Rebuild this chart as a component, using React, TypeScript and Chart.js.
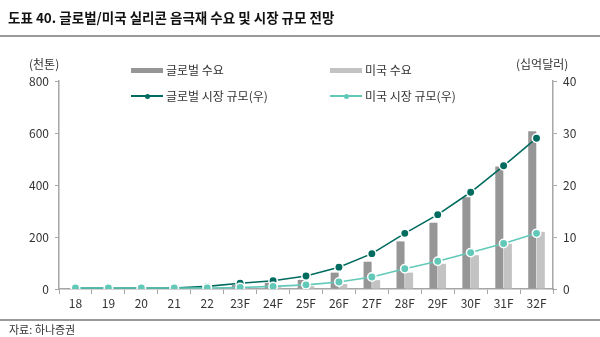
import React, { useEffect, useRef } from "react";
import { Chart, registerables } from "chart.js";

Chart.register(...registerables);

const categories = ["18", "19", "20", "21", "22", "23F", "24F", "25F", "26F", "27F", "28F", "29F", "30F", "31F", "32F"];
const globalDemand = [3, 4, 5, 7, 10, 15, 24, 35, 63, 105, 183, 255, 353, 471, 607];
const usDemand = [0.5, 0.7, 1, 1.5, 2, 4, 7, 11, 19, 34, 63, 97, 130, 174, 220];
const globalMarket = [0.2, 0.2, 0.2, 0.2, 0.5, 1.1, 1.6, 2.5, 4.2, 6.8, 10.7, 14.3, 18.6, 23.7, 29.0];
const usMarket = [0.2, 0.2, 0.2, 0.2, 0.2, 0.3, 0.5, 0.8, 1.35, 2.3, 3.9, 5.35, 7.0, 8.75, 10.7];
const leftTicks = [0, 200, 400, 600, 800];
const rightTicks = [0, 10, 20, 30, 40];

const FONT = '"Noto Sans CJK KR", "Noto Sans", sans-serif';
const C_GLOBAL_BAR = "#969696";
const C_US_BAR = "#c3c3c3";
const C_GLOBAL_LINE = "#006b5f";
const C_US_LINE = "#62c9b9";
const AXIS = "#a6a6a6";
const TEXT = "#333333";

export default function App() {
  const ref = useRef<HTMLCanvasElement>(null);
  useEffect(() => {
    document.body.style.margin = "0";
    const ctx = ref.current!.getContext("2d")!;
    const chart = new Chart(ctx, {
      type: "bar",
      data: {
        labels: categories,
        datasets: [
          {
            type: "line",
            label: "미국 시장 규모(우)",
            data: usMarket,
            yAxisID: "y1",
            borderColor: C_US_LINE,
            backgroundColor: C_US_LINE,
            pointBackgroundColor: C_US_LINE,
            pointBorderColor: "#ffffff",
            pointBorderWidth: 1.5,
            pointRadius: 4.2,
            borderWidth: 1.6,
            order: 0,
          } as any,
          {
            type: "line",
            label: "글로벌 시장 규모(우)",
            data: globalMarket,
            yAxisID: "y1",
            borderColor: C_GLOBAL_LINE,
            backgroundColor: C_GLOBAL_LINE,
            pointBackgroundColor: C_GLOBAL_LINE,
            pointBorderColor: "#ffffff",
            pointBorderWidth: 1.5,
            pointRadius: 4.2,
            borderWidth: 1.6,
            order: 1,
          } as any,
          {
            label: "글로벌 수요",
            data: globalDemand,
            yAxisID: "y",
            backgroundColor: C_GLOBAL_BAR,
            categoryPercentage: 0.52,
            barPercentage: 0.94,
            order: 2,
          },
          {
            label: "미국 수요",
            data: usDemand,
            yAxisID: "y",
            backgroundColor: C_US_BAR,
            categoryPercentage: 0.52,
            barPercentage: 0.94,
            order: 3,
          },
        ],
      },
      options: {
        animation: false,
        responsive: false,
        maintainAspectRatio: false,
        layout: { padding: { top: 81, left: 0, right: 0, bottom: 0 } },
        plugins: { legend: { display: false }, tooltip: { enabled: false }, title: { display: false } },
        scales: {
          x: {
            offset: true,
            grid: { offset: true, drawOnChartArea: false, drawTicks: true, tickLength: 5, color: AXIS },
            border: { color: AXIS, width: 1.5 },
            ticks: { color: TEXT, font: { family: FONT, size: 12 }, padding: 2, maxRotation: 0, autoSkip: false },
            afterFit: (s: any) => { s.height = 337 - 289; },
          },
          y: {
            position: "left",
            min: 0,
            max: 800,
            afterBuildTicks: (s: any) => { s.ticks = leftTicks.map((v) => ({ value: v })); },
            grid: { drawOnChartArea: false, drawTicks: true, tickLength: 4, color: AXIS },
            border: { color: AXIS, width: 1.5 },
            ticks: { color: TEXT, font: { family: FONT, size: 12 }, padding: 6 },
            afterFit: (s: any) => { s.width = 59; },
          },
          y1: {
            position: "right",
            min: 0,
            max: 40,
            afterBuildTicks: (s: any) => { s.ticks = rightTicks.map((v) => ({ value: v })); },
            grid: { drawOnChartArea: false, drawTicks: true, tickLength: 4, color: AXIS },
            border: { color: AXIS, width: 1.5 },
            ticks: { color: TEXT, font: { family: FONT, size: 12 }, padding: 6 },
            afterFit: (s: any) => { s.width = 600 - 553; },
          },
        },
      },
    });
    return () => chart.destroy();
  }, []);

  const legendText: React.CSSProperties = { position: "absolute", fontFamily: FONT, fontSize: 12, color: TEXT, lineHeight: "14px", whiteSpace: "nowrap" };
  const box = (x: number, y: number, color: string) => (
    <div style={{ position: "absolute", left: x, top: y - 2.5, width: 32, height: 5, background: color }} />
  );
  const lineMark = (x: number, y: number, color: string) => (
    <>
      <div style={{ position: "absolute", left: x, top: y - 0.75, width: 32, height: 1.5, background: color }} />
      <div style={{ position: "absolute", left: x + 14, top: y - 2.5, width: 5, height: 5, borderRadius: 3, background: color }} />
    </>
  );

  return (
    <div style={{ position: "fixed", left: 0, top: 0, width: 600, height: 337, background: "#fff", overflow: "hidden" }}>
      <canvas ref={ref} width={600} height={337} style={{ position: "absolute", left: 0, top: 0 }} />
      <div style={{ position: "absolute", left: 8, top: 8, fontFamily: FONT, fontWeight: 700, fontSize: 13.5, color: "#111", whiteSpace: "nowrap", lineHeight: "18px" }}>
        도표 40. 글로벌/미국 실리콘 음극재 수요 및 시장 규모 전망
      </div>
      <div style={{ position: "absolute", left: 0, top: 35, width: 600, height: 1.5, background: "#9a9a9a" }} />
      <div style={{ ...legendText, left: 29, top: 57 }}>(천톤)</div>
      <div style={{ ...legendText, left: 516, top: 57 }}>(십억달러)</div>
      {box(131, 70, C_GLOBAL_BAR)}
      <div style={{ ...legendText, left: 166, top: 63 }}>글로벌 수요</div>
      {box(330, 70, C_US_BAR)}
      <div style={{ ...legendText, left: 365, top: 63 }}>미국 수요</div>
      {lineMark(131, 96, C_GLOBAL_LINE)}
      <div style={{ ...legendText, left: 166, top: 89 }}>글로벌 시장 규모(우)</div>
      {lineMark(330, 96, C_US_LINE)}
      <div style={{ ...legendText, left: 365, top: 89 }}>미국 시장 규모(우)</div>
      <div style={{ position: "absolute", left: 0, top: 319, width: 600, height: 1.5, background: "#9a9a9a" }} />
      <div style={{ position: "absolute", left: 9, top: 322, fontFamily: FONT, fontSize: 11, color: TEXT, whiteSpace: "nowrap", lineHeight: "14px" }}>
        자료: 하나증권
      </div>
    </div>
  );
}
